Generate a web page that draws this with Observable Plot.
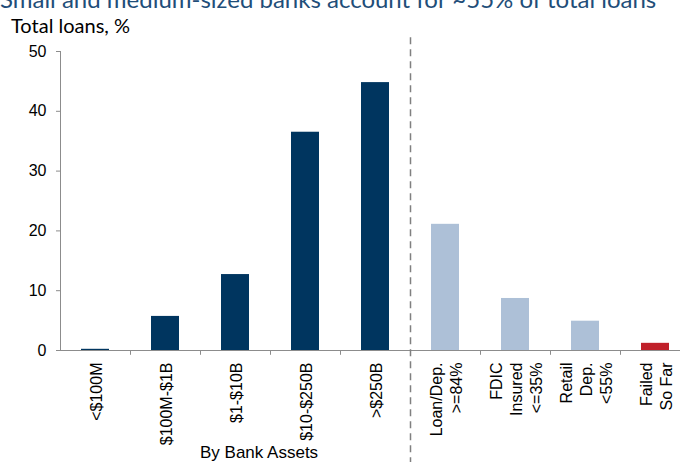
<!DOCTYPE html>
<html>
<head>
<meta charset="utf-8">
<script src="https://cdn.jsdelivr.net/npm/d3@7"></script>
<script src="https://cdn.jsdelivr.net/npm/@observablehq/plot@0.6"></script>
<style>
  html, body { margin: 0; padding: 0; background: #fff; }
  #wrap { position: relative; width: 680px; height: 462px; overflow: hidden; background: #fff; }
  #title { position: absolute; left: 0; top: -13px; font-family: Lato, "Open Sans", sans-serif; font-size: 24px; line-height: 24px; color: #1f4e79; white-space: nowrap; }
  #subtitle { position: absolute; left: 11px; top: 13px; font-family: Lato, "Open Sans", sans-serif; font-size: 20px; line-height: 24px; color: #000; white-space: nowrap; }
  #chart { position: absolute; left: 0; top: 35px; }
  #xgroup { position: absolute; left: 200px; top: 443px; font-family: "Liberation Sans", Arial, sans-serif; font-size: 17px; line-height: 20px; color: #000; white-space: nowrap; }
</style>
</head>
<body>
<div id="wrap">
  <div id="title">Small and medium-sized banks account for ~55% of total loans</div>
  <div id="subtitle">Total loans, %</div>
  <div id="chart"></div>
  <div id="xgroup">By Bank Assets</div>
</div>
<script>
const categories = ["<$100M", "$100M-$1B", "$1-$10B", "$10-$250B", ">$250B",
  "Loan/Dep.\n>=84%", "FDIC\nInsured\n<=35%", "Retail\nDep.\n<55%", "Failed\nSo Far"];
const values = [0.2, 5.7, 12.7, 36.5, 44.8, 21.1, 8.7, 4.9, 1.2];
const groups = ["assets", "assets", "assets", "assets", "assets", "profile", "profile", "profile", "failed"];
const groupNames = ["assets", "profile", "failed"];
const groupColors = ["#00355f", "#adc0d7", "#c0202a"];
const yTicks = [0, 10, 20, 30, 40, 50];
const dividerCategory = "Loan/Dep.\n>=84%";

const data = categories.map((c, i) => ({cat: c, value: values[i], group: groups[i]}));
const boundaryCats = categories.slice(1).filter(c => c !== dividerCategory);

const half = 35; // half of band step
const chart = Plot.plot({
  width: 680,
  height: 427,
  marginTop: 16,
  marginBottom: 112,
  marginLeft: 60,
  marginRight: -10,
  style: {fontFamily: "'Liberation Sans', Arial, sans-serif", fontSize: "16px", background: "transparent", overflow: "visible"},
  x: {domain: categories, paddingInner: 0.6, paddingOuter: 0.3, axis: null},
  y: {domain: [0, 50], axis: null},
  color: {domain: groupNames, range: groupColors},
  marks: [
    Plot.barY(data, {x: "cat", y: "value", fill: "group"}),
    Plot.ruleY([0], {stroke: "#8c8c8c", strokeWidth: 1}),
    Plot.ruleX([categories[0]], {dx: -half, y1: 0, y2: 50, stroke: "#8c8c8c"}),
    Plot.ruleX(boundaryCats, {dx: -half, y1: 0, y2: -0.8, stroke: "#8c8c8c"}),
    Plot.ruleX([dividerCategory], {dx: -half, y1: 52.3, y2: -19, stroke: "#808080", strokeWidth: 1.5, strokeDasharray: "7,5"}),
    Plot.axisY(yTicks, {anchor: "left", tickSize: 4, tickPadding: 10, stroke: "#8c8c8c", fill: "#000", fontSize: 16, label: null}),
    Plot.text(data, {x: "cat", y: 0, text: "cat", rotate: -90, textAnchor: "end", lineAnchor: "middle", dy: 12, fontSize: 16, lineHeight: 1.25, fill: "#000"})
  ]
});
document.getElementById("chart").appendChild(chart);
</script>
</body>
</html>
